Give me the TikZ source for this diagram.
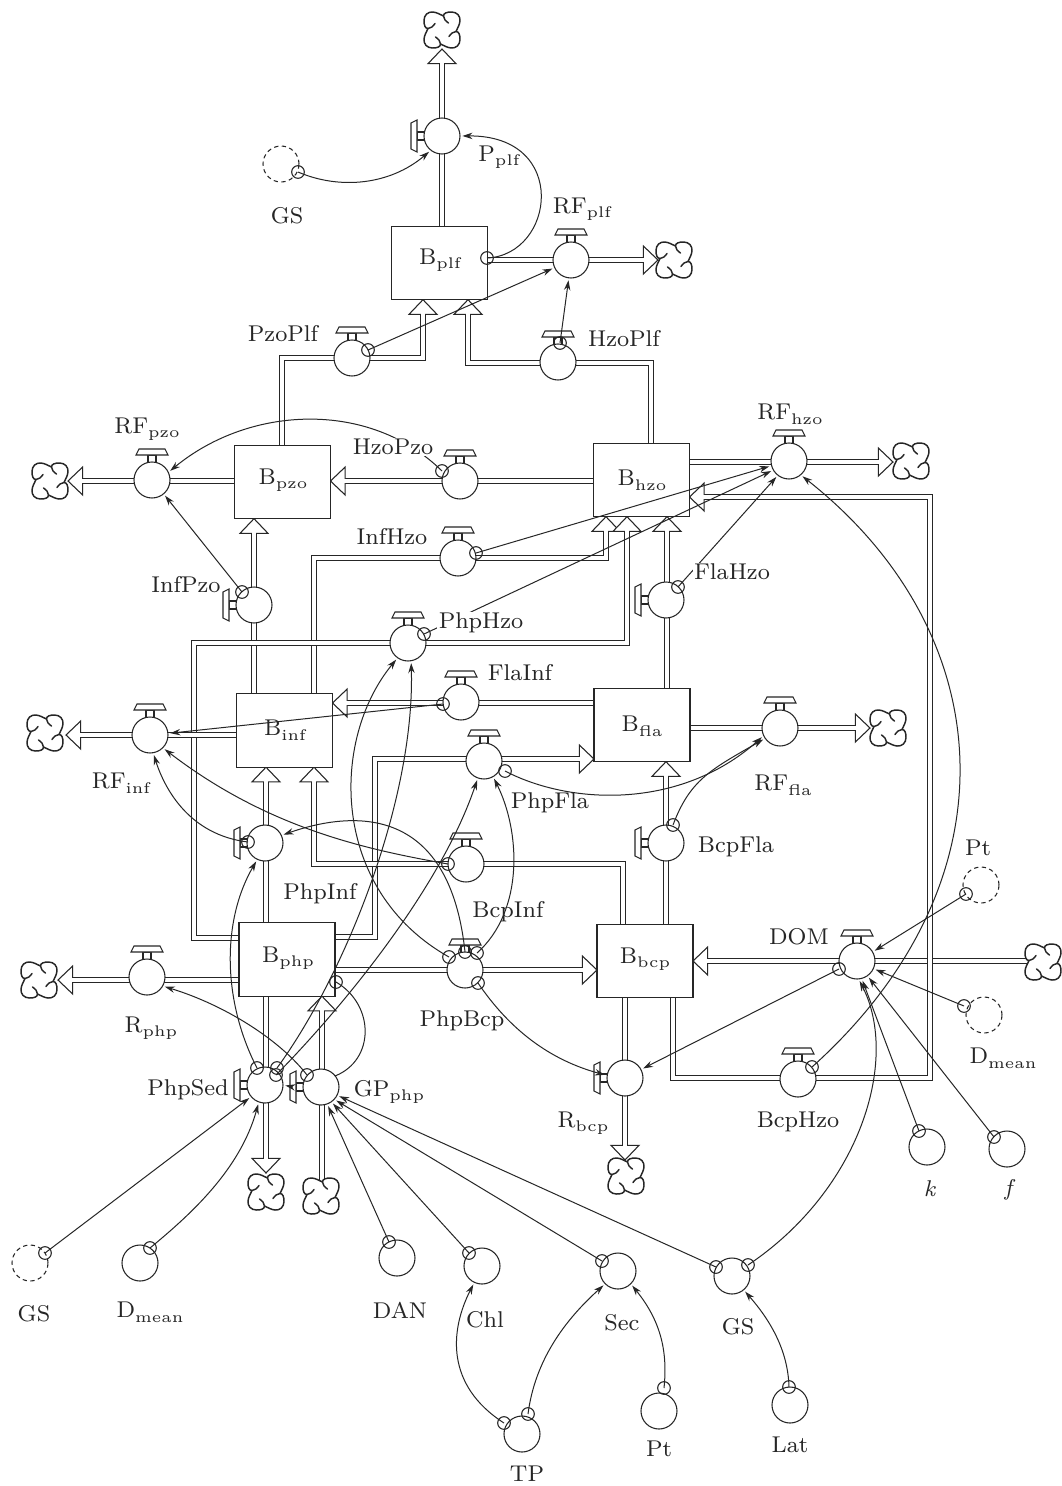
\documentclass[tikz,border=0pt]{standalone}
\usetikzlibrary{arrows.meta}
\definecolor{ink}{HTML}{262626}
\newcommand\sbs[1]{\raisebox{-1.6pt}{\fontsize{5.4}{6}\selectfont #1}}
\newcommand\txt[1]{\scalebox{2.14}{\fontsize{8}{9}\selectfont #1}}
\pgfdeclarearrow{
  name=PipeTip,
  setup code={%
    \pgfarrowssettipend{0pt}%
    \pgfarrowssetlineend{-10.6pt}%
    \pgfarrowssetvisualbackend{-11pt}%
    \pgfarrowssetbackend{-11pt}%
  },
  drawing code={%
    \pgfsetdash{}{0pt}%
    \pgfsetlinewidth{.8pt}%
    \pgfsetmiterjoin
    \pgfsetfillcolor{white}%
    \pgfsetstrokecolor{ink}%
    \pgfpathmoveto{\pgfqpoint{-11pt}{10.5pt}}%
    \pgfpathlineto{\pgfqpoint{0pt}{0pt}}%
    \pgfpathlineto{\pgfqpoint{-11pt}{-10.5pt}}%
    \pgfpathclose
    \pgfusepathqfill
    \pgfpathmoveto{\pgfqpoint{-11pt}{1.6pt}}%
    \pgfpathlineto{\pgfqpoint{-11pt}{10.5pt}}%
    \pgfpathlineto{\pgfqpoint{0pt}{0pt}}%
    \pgfpathlineto{\pgfqpoint{-11pt}{-10.5pt}}%
    \pgfpathlineto{\pgfqpoint{-11pt}{-1.6pt}}%
    \pgfusepathqstroke
  }
}
\tikzset{
  x=0.75pt,y=-0.75pt,
  ink/.style={draw=ink,line width=.8pt},
  pipe/.style={ink,double=white,double distance=2.4pt,line join=miter},
  tipped/.style={-{PipeTip}},
  stock/.style={ink,fill=white,rectangle,minimum width=72pt,minimum height=55pt,inner sep=0pt,outer sep=0pt},
  flowc/.style={ink,fill=white,circle,minimum size=27pt,inner sep=0pt,outer sep=0pt},
  auxc/.style={ink,circle,minimum size=27pt,inner sep=0pt,outer sep=0pt},
  ghost/.style={auxc,dashed,dash pattern=on 3.2pt off 2.6pt},
  tap/.style={ink,circle,minimum size=9.5pt,inner sep=0pt,outer sep=0pt},
  link/.style={draw=ink,line width=.75pt,-{Stealth[length=7.5pt,width=4.8pt]},shorten >=1.8pt},
  lbl/.style={text=ink,inner sep=0pt},
  lblw/.style={lbl,fill=white,inner sep=1pt},
  cloudpic/.pic={
    \foreach \r in {0,90,180,270}{
      \draw[draw=ink,line width=1.1pt,rotate=\r,line cap=round]
        (6.5,-7) .. controls (3.5,-9) and (1.5,-11.5) .. (1.5,-14)
        .. controls (1.5,-17) and (5,-18) .. (9.5,-18)
        .. controls (15,-18) and (18.5,-14) .. (18,-9)
        .. controls (17.6,-5) and (15.5,-2) .. (14,1.5);
    }
  }
}
\newcommand\flow[4]{%
  \begin{scope}[shift={(#2,#3)},rotate=#4]
    \draw[ink,fill=white] (-4,-16) rectangle (4,-25);
    \draw[ink,fill=white] (-16,-25) -- (16,-25) -- (13,-31) -- (-13,-31) -- cycle;
  \end{scope}
  \node[flowc] (#1) at (#2,#3) {};
}
\begin{document}
\begin{tikzpicture}
\fill[white] (0,0) rectangle (1061,1486);
\useasboundingbox (0,0) rectangle (1061,1486);

% stocks are placed first so that pipes can attach to them
\path[every node/.style={stock,draw=none,fill=none}]
 node (Bplf) at (439.5,263) {}
 node (Bpzo) at (282.5,482) {}
 node (Bhzo) at (641.5,480) {}
 node (Binf) at (284.5,730.5) {}
 node (Bfla) at (642,725) {}
 node (Bphp) at (287,959.5) {}
 node (Bbcp) at (645,961) {};

% pipe ends and bends
\coordinate (c01) at (442,49);
\coordinate (c02) at (658,260);
\coordinate (a03) at (282,358); \coordinate (b03) at (423,358);
\coordinate (a04) at (651,363); \coordinate (b04) at (468,363);
\coordinate (c05) at (893,462);
\coordinate (c06) at (461,481);
\coordinate (c07) at (68,481);
\coordinate (c08) at (254,605);
\coordinate (a09) at (314,558); \coordinate (b09) at (606,558);
\coordinate (a10) at (194,938); \coordinate (b10) at (194,643); \coordinate (d10) at (627,643);
\coordinate (a11) at (375,937); \coordinate (b11) at (375,759); \coordinate (d11) at (500,759);
\coordinate (c12) at (667,600);
\coordinate (c13) at (461,703);
\coordinate (c14) at (66,735);
\coordinate (c15) at (870,728);
\coordinate (c16) at (666,843);
\coordinate (a17) at (623,864); \coordinate (b17) at (314,864);
\coordinate (c18) at (266,843);
\coordinate (c19) at (58,980);
\coordinate (c20) at (500,970);
\coordinate (s21) at (1027,961);
\coordinate (a22) at (673,1078); \coordinate (b22) at (930,1078); \coordinate (d22) at (930,497);
\coordinate (c23) at (625,1160);
\coordinate (c24) at (266,1173);
\coordinate (s25) at (322,1180);

% pipes
\draw[pipe,tipped] (Bplf.north -| c01) -- (c01);
\draw[pipe,tipped] (Bplf.east |- c02) -- (c02);
\draw[pipe,tipped] (Bpzo.north -| a03) -- (a03) -- (b03) -- (Bplf.south -| b03);
\draw[pipe,tipped] (Bhzo.north -| a04) -- (a04) -- (b04) -- (Bplf.south -| b04);
\draw[pipe,tipped] (Bhzo.east |- c05) -- (c05);
\draw[pipe,tipped] (Bhzo.west |- c06) -- (Bpzo.east |- c06);
\draw[pipe,tipped] (Bpzo.west |- c07) -- (c07);
\draw[pipe,tipped] (Binf.north -| c08) -- (Bpzo.south -| c08);
\draw[pipe,tipped] (Binf.north -| a09) -- (a09) -- (b09) -- (Bhzo.south -| b09);
\draw[pipe,tipped] (Bphp.west |- a10) -- (a10) -- (b10) -- (d10) -- (Bhzo.south -| d10);
\draw[pipe,tipped] (Bphp.east |- a11) -- (a11) -- (b11) -- (Bfla.west |- b11);
\draw[pipe,tipped] (Bfla.north -| c12) -- (Bhzo.south -| c12);
\draw[pipe,tipped] (Bfla.west |- c13) -- (Binf.east |- c13);
\draw[pipe,tipped] (Binf.west |- c14) -- (c14);
\draw[pipe,tipped] (Bfla.east |- c15) -- (c15);
\draw[pipe,tipped] (Bbcp.north -| c16) -- (Bfla.south -| c16);
\draw[pipe,tipped] (Bbcp.north -| a17) -- (a17) -- (b17) -- (Binf.south -| b17);
\draw[pipe,tipped] (Bphp.north -| c18) -- (Binf.south -| c18);
\draw[pipe,tipped] (Bphp.west |- c19) -- (c19);
\draw[pipe,tipped] (Bphp.east |- c20) -- (Bbcp.west |- c20);
\draw[pipe,tipped] (s21) -- (Bbcp.east |- s21);
\draw[pipe,tipped] (Bbcp.south -| a22) -- (a22) -- (b22) -- (d22) -- (Bhzo.east |- d22);
\draw[pipe,tipped] (Bbcp.south -| c23) -- (c23);
\draw[pipe,tipped] (Bphp.south -| c24) -- (c24);
\draw[pipe,tipped] (s25) -- (Bphp.south -| s25);

% stocks drawn over the pipes
\path
 node[stock] at (Bplf) {}
 node[stock] at (Bpzo) {}
 node[stock] at (Bhzo) {}
 node[stock] at (Binf) {}
 node[stock] at (Bfla) {}
 node[stock] at (Bphp) {}
 node[stock] at (Bbcp) {};

% clouds
\pic at (442,30) {cloudpic};
\pic at (674,260) {cloudpic};
\pic at (911,461) {cloudpic};
\pic at (50,481) {cloudpic};
\pic at (888,728) {cloudpic};
\pic at (45,733) {cloudpic};
\pic at (1043,962) {cloudpic};
\pic at (39,980) {cloudpic};
\pic at (266,1192) {cloudpic};
\pic at (321,1196) {cloudpic};
\pic at (626,1176) {cloudpic};

% flows
\flow{Pplf}{442}{136}{90}
\flow{RFplf}{571}{260}{0}
\flow{PzoPlf}{352}{358}{0}
\flow{HzoPlf}{558}{362}{0}
\flow{RFhzo}{789}{461}{0}
\flow{HzoPzo}{460}{481}{0}
\flow{RFpzo}{152}{480}{0}
\flow{InfHzo}{458}{558}{0}
\flow{InfPzo}{254}{605}{90}
\flow{FlaHzo}{666}{600}{90}
\flow{PhpHzo}{408}{643}{0}
\flow{FlaInf}{461}{702}{0}
\flow{RFinf}{150}{735}{0}
\flow{RFfla}{780}{728}{0}
\flow{PhpFla}{484}{761}{0}
\flow{PhpInf}{265}{843}{90}
\flow{BcpInf}{466}{864}{0}
\flow{BcpFla}{666}{843}{90}
\flow{Rphp}{147}{977}{0}
\flow{PhpBcp}{465}{970}{0}
\flow{DOM}{857}{961}{0}
\flow{PhpSed}{265}{1085}{90}
\flow{GPphp}{321}{1087}{90}
\flow{Rbcp}{625}{1078}{90}
\flow{BcpHzo}{798}{1079}{0}

% auxiliaries
\node[ghost] (GSa) at (281,164) {};
\node[ghost] (Pta) at (981,885) {};
\node[ghost] (Dma) at (984,1015) {};
\node[ghost] (GSb) at (30,1263) {};
\node[auxc] (Dmb) at (140,1263) {};
\node[auxc] (DAN) at (397,1258) {};
\node[auxc] (Chl) at (482,1266) {};
\node[auxc] (Sec) at (618,1271) {};
\node[auxc] (GSc) at (732,1276) {};
\node[auxc] (kk) at (927,1147) {};
\node[auxc] (ff) at (1007,1149) {};
\node[auxc] (Ptb) at (659,1411) {};
\node[auxc] (TP) at (522,1434) {};
\node[auxc] (Lat) at (790,1405) {};

% taps
\node[tap] (t01) at (298,172) {};
\node[tap] (t02) at (487,258) {};
\node[tap] (t03) at (368,350) {};
\node[tap] (t04) at (560,343) {};
\node[tap] (t05) at (442,471) {};
\node[tap] (t06) at (476,553) {};
\node[tap] (t07) at (424,634) {};
\node[tap] (t08) at (678,587) {};
\node[tap] (t09) at (242,592) {};
\node[tap] (t10) at (812,1067) {};
\node[tap] (t11) at (443,704) {};
\node[tap] (t12) at (505,771) {};
\node[tap] (t13) at (673,825) {};
\node[tap] (t14) at (248,842) {};
\node[tap] (t15) at (448,864) {};
\node[tap] (t16) at (465,952) {};
\node[tap] (t17) at (449,957) {};
\node[tap] (t18) at (477,953) {};
\node[tap] (t19) at (478,983) {};
\node[tap] (t20) at (257,1068) {};
\node[tap] (t21) at (277,1068) {};
\node[tap] (t22) at (276,1075) {};
\node[tap] (t23) at (307,1075) {};
\node[tap] (t24) at (336,982) {};
\node[tap] (t25) at (45,1253) {};
\node[tap] (t26) at (150,1248) {};
\node[tap] (t27) at (389,1242) {};
\node[tap] (t28) at (469,1253) {};
\node[tap] (t29) at (602,1261) {};
\node[tap] (t30) at (716,1267) {};
\node[tap] (t31) at (748,1265) {};
\node[tap] (t32) at (966,894) {};
\node[tap] (t33) at (964,1006) {};
\node[tap] (t34) at (919,1131) {};
\node[tap] (t35) at (994,1137) {};
\node[tap] (t36) at (839,969) {};
\node[tap] (t37) at (504,1423) {};
\node[tap] (t38) at (528,1414) {};
\node[tap] (t39) at (664,1388) {};
\node[tap] (t40) at (789,1387) {};
\coordinate (stemGP) at (293,1087);

% information links
\draw[link] (t01.center) .. controls (340,190) and (390,185) .. (Pplf.232);
\draw[link] (t02.center) .. controls (555,255) and (570,135) .. (Pplf.0);
\draw[link] (t03.center) -- (RFplf.205);
\draw[link] (t04.center) -- (RFplf.263);
\draw[link] (t05.center) .. controls (370,400) and (250,405) .. (RFpzo.25);
\draw[link] (t06.center) -- (RFhzo.195);
\draw[link] (t07.center) -- (RFhzo.210);
\draw[link] (t08.center) -- (RFhzo.232);
\draw[link] (t09.center) -- (RFpzo.-50);
\draw[link] (t10.center) .. controls (1020,880) and (1000,632) .. (RFhzo.-50);
\draw[link] (t11.center) -- (RFinf.5);
\draw[link] (t12.center) .. controls (570,805) and (680,810) .. (RFfla.205);
\draw[link] (t13.center) .. controls (690,780) and (710,770) .. (RFfla.215);
\draw[link] (t14.center) .. controls (190,835) and (165,790) .. (RFinf.-80);
\draw[link] (t15.center) .. controls (370,850) and (270,830) .. (RFinf.-45);
\draw[link] (t16.center) .. controls (450,810) and (360,808) .. (PhpInf.25);
\draw[link] (t17.center) .. controls (330,890) and (330,740) .. (PhpHzo.235);
\draw[link] (t18.center) .. controls (525,910) and (520,830) .. (PhpFla.-60);
\draw[link] (t19.center) .. controls (510,1030) and (550,1060) .. (Rbcp.172);
\draw[link] (t20.center) .. controls (222,1000) and (222,920) .. (PhpInf.245);
\draw[link] (t21.center) .. controls (345,975) and (415,800) .. (PhpHzo.-80);
\draw[link] (t22.center) .. controls (340,1010) and (440,890) .. (PhpFla.250);
\draw[link] (t23.center) .. controls (280,1040) and (225,1005) .. (Rphp.-30);
\draw[draw=ink,line width=.75pt] (t24.center) .. controls (375,1005) and (375,1060) .. (GPphp.38);
\draw[link] (stemGP) -- (PhpSed.0);
\draw[link] (t25.center) -- (PhpSed.220);
\draw[link] (t26.center) .. controls (190,1215) and (240,1170) .. (PhpSed.250);
\draw[link] (t27.center) -- (GPphp.-70);
\draw[link] (t28.center) -- (GPphp.-55);
\draw[link] (t29.center) -- (GPphp.-43);
\draw[link] (t30.center) -- (GPphp.-27);
\draw[link] (t31.center) .. controls (860,1190) and (900,1060) .. (DOM.-85);
\draw[link] (t32.center) -- (DOM.30);
\draw[link] (t33.center) -- (DOM.-25);
\draw[link] (t34.center) -- (DOM.-75);
\draw[link] (t35.center) -- (DOM.-55);
\draw[link] (t36.center) -- (Rbcp.28);
\draw[link] (t37.center) .. controls (445,1385) and (450,1330) .. (Chl.245);
\draw[link] (t38.center) .. controls (535,1360) and (565,1320) .. (Sec.225);
\draw[link] (t39.center) .. controls (668,1350) and (660,1320) .. (Sec.-45);
\draw[link] (t40.center) .. controls (788,1350) and (770,1320) .. (GSc.-50);

% labels
\node[lbl] (L01) at (287,216) {\txt{GS}};
\node[lbl] (L02) at (499,157) {\txt{P\sbs{plf}}};
\node[lbl] (L03) at (582,209) {\txt{RF\sbs{plf}}};
\node[lbl] (L04) at (440,260) {\txt{B\sbs{plf}}};
\node[lbl] (L05) at (283,334) {\txt{PzoPlf}};
\node[lbl] (L06) at (624,339) {\txt{HzoPlf}};
\node[lbl] (L07) at (790,414) {\txt{RF\sbs{hzo}}};
\node[lbl] (L08) at (147,429) {\txt{RF\sbs{pzo}}};
\node[lblw] (L09) at (393,447) {\txt{HzoPzo}};
\node[lbl] (L10) at (283,480) {\txt{B\sbs{pzo}}};
\node[lbl] (L11) at (642,480) {\txt{B\sbs{hzo}}};
\node[lbl] (L12) at (392,537) {\txt{InfHzo}};
\node[lbl] (L13) at (186,585) {\txt{InfPzo}};
\node[lblw] (L14) at (732,572) {\txt{FlaHzo}};
\node[lblw] (L15) at (481,623) {\txt{PhpHzo}};
\node[lbl] (L16) at (520,673) {\txt{FlaInf}};
\node[lbl] (L17) at (285,730) {\txt{B\sbs{inf}}};
\node[lbl] (L18) at (642,726) {\txt{B\sbs{fla}}};
\node[lbl] (L19) at (121,783) {\txt{RF\sbs{inf}}};
\node[lbl] (L20) at (783,785) {\txt{RF\sbs{fla}}};
\node[lbl] (L21) at (550,803) {\txt{PhpFla}};
\node[lbl] (L22) at (736,847) {\txt{BcpFla}};
\node[lbl] (L23) at (320,894) {\txt{PhpInf}};
\node[lbl] (L24) at (508,912) {\txt{BcpInf}};
\node[lbl] (L25) at (978,848) {\txt{Pt}};
\node[lbl] (L26) at (799,937) {\txt{DOM}};
\node[lbl] (L27) at (288,958) {\txt{B\sbs{php}}};
\node[lbl] (L28) at (645,959) {\txt{B\sbs{bcp}}};
\node[lbl] (L29) at (151,1028) {\txt{R\sbs{php}}};
\node[lbl] (L30) at (462,1021) {\txt{PhpBcp}};
\node[lbl] (L31) at (1003,1058) {\txt{D\sbs{mean}}};
\node[lbl] (L32) at (188,1090) {\txt{PhpSed}};
\node[lbl] (L33) at (389,1092) {\txt{GP\sbs{php}}};
\node[lbl] (L34) at (583,1123) {\txt{R\sbs{bcp}}};
\node[lbl] (L35) at (798,1122) {\txt{BcpHzo}};
\node[lbl] (L36) at (930,1189) {\txt{\textit{k}}};
\node[lbl] (L37) at (1010,1190) {\txt{\textit{f}}};
\node[lbl] (L38) at (34,1314) {\txt{GS}};
\node[lbl] (L39) at (150,1312) {\txt{D\sbs{mean}}};
\node[lbl] (L40) at (400,1310) {\txt{DAN}};
\node[lbl] (L41) at (485,1320) {\txt{Chl}};
\node[lbl] (L42) at (622,1323) {\txt{Sec}};
\node[lbl] (L43) at (738,1327) {\txt{GS}};
\node[lbl] (L44) at (659,1449) {\txt{Pt}};
\node[lbl] (L45) at (527,1474) {\txt{TP}};
\node[lbl] (L46) at (790,1445) {\txt{Lat}};
\end{tikzpicture}
\end{document}
